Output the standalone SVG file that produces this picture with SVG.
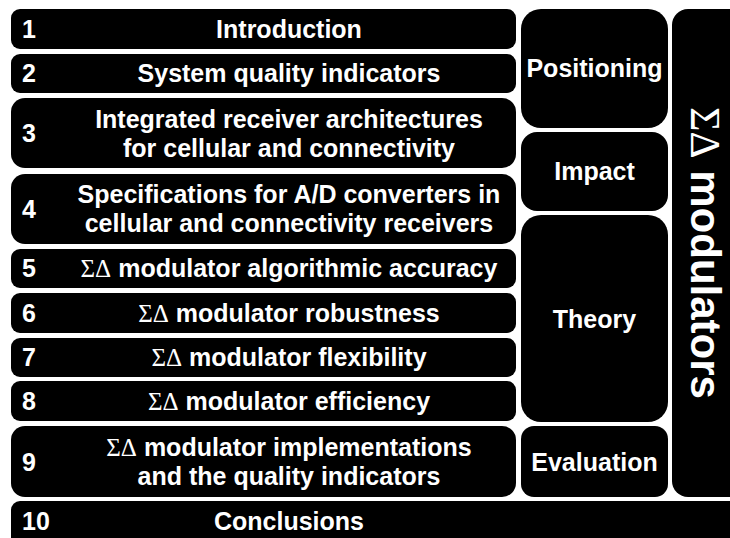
<svg xmlns="http://www.w3.org/2000/svg" width="730" height="538" viewBox="0 0 730 538">
<style>
.box{fill:#000;}
.t{font-family:"Liberation Sans",Arial,sans-serif;font-weight:bold;font-size:25px;fill:#fff;}
.c{text-anchor:middle;}
.g{font-family:"Liberation Serif","Times New Roman",serif;font-weight:normal;}
.big{font-size:42px;}
</style>
<rect width="730" height="538" fill="#fff"/>
<g id="connectors"/>
<g id="n1"><rect class="box" x="11" y="9" width="505" height="40" rx="9"/><text class="t" x="22" y="38">1</text><text class="t c" x="289" y="38">Introduction</text></g>
<g id="n2"><rect class="box" x="11" y="54" width="505" height="39" rx="9"/><text class="t" x="22" y="82">2</text><text class="t c" x="289" y="82">System quality indicators</text></g>
<g id="n3"><rect class="box" x="11" y="98" width="505" height="70" rx="14"/><text class="t" x="22" y="142">3</text><text class="t c" x="289" y="128">Integrated receiver architectures</text><text class="t c" x="289" y="157">for cellular and connectivity</text></g>
<g id="n4"><rect class="box" x="11" y="174" width="505" height="70" rx="14"/><text class="t" x="22" y="218">4</text><text class="t c" x="289" y="203">Specifications for A/D converters in</text><text class="t c" x="289" y="232">cellular and connectivity receivers</text></g>
<g id="n5"><rect class="box" x="11" y="249" width="505" height="39" rx="9"/><text class="t" x="22" y="277">5</text><text class="t c" x="289" y="277"><tspan class="g">ΣΔ</tspan> modulator algorithmic accuracy</text></g>
<g id="n6"><rect class="box" x="11" y="293" width="505" height="40" rx="9"/><text class="t" x="22" y="322">6</text><text class="t c" x="289" y="322"><tspan class="g">ΣΔ</tspan> modulator robustness</text></g>
<g id="n7"><rect class="box" x="11" y="338" width="505" height="39" rx="9"/><text class="t" x="22" y="366">7</text><text class="t c" x="289" y="366"><tspan class="g">ΣΔ</tspan> modulator flexibility</text></g>
<g id="n8"><rect class="box" x="11" y="381" width="505" height="40" rx="9"/><text class="t" x="22" y="410">8</text><text class="t c" x="289" y="410"><tspan class="g">ΣΔ</tspan> modulator efficiency</text></g>
<g id="n9"><rect class="box" x="11" y="426" width="505" height="71" rx="14"/><text class="t" x="22" y="471">9</text><text class="t c" x="289" y="456"><tspan class="g">ΣΔ</tspan> modulator implementations</text><text class="t c" x="289" y="485">and the quality indicators</text></g>
<g id="n10"><rect class="box" x="11" y="501" width="740" height="45" rx="9"/><text class="t" x="22" y="530">10</text><text class="t c" x="289" y="530">Conclusions</text></g>
<g id="positioning"><rect class="box" x="521" y="9" width="147" height="119" rx="20"/><text class="t c" x="594.5" y="77">Positioning</text></g>
<g id="impact"><rect class="box" x="521" y="132" width="147" height="79" rx="16"/><text class="t c" x="594.5" y="180">Impact</text></g>
<g id="theory"><rect class="box" x="521" y="215" width="147" height="207" rx="20"/><text class="t c" x="594.5" y="328">Theory</text></g>
<g id="evaluation"><rect class="box" x="521" y="426" width="147" height="71" rx="13"/><text class="t c" x="594.5" y="471">Evaluation</text></g>
<g id="modulators"><rect class="box" x="672" y="9" width="80" height="488" rx="16"/><text class="t c big" transform="translate(691 253) rotate(90)"><tspan class="g">ΣΔ</tspan> modulators</text></g>
</svg>
